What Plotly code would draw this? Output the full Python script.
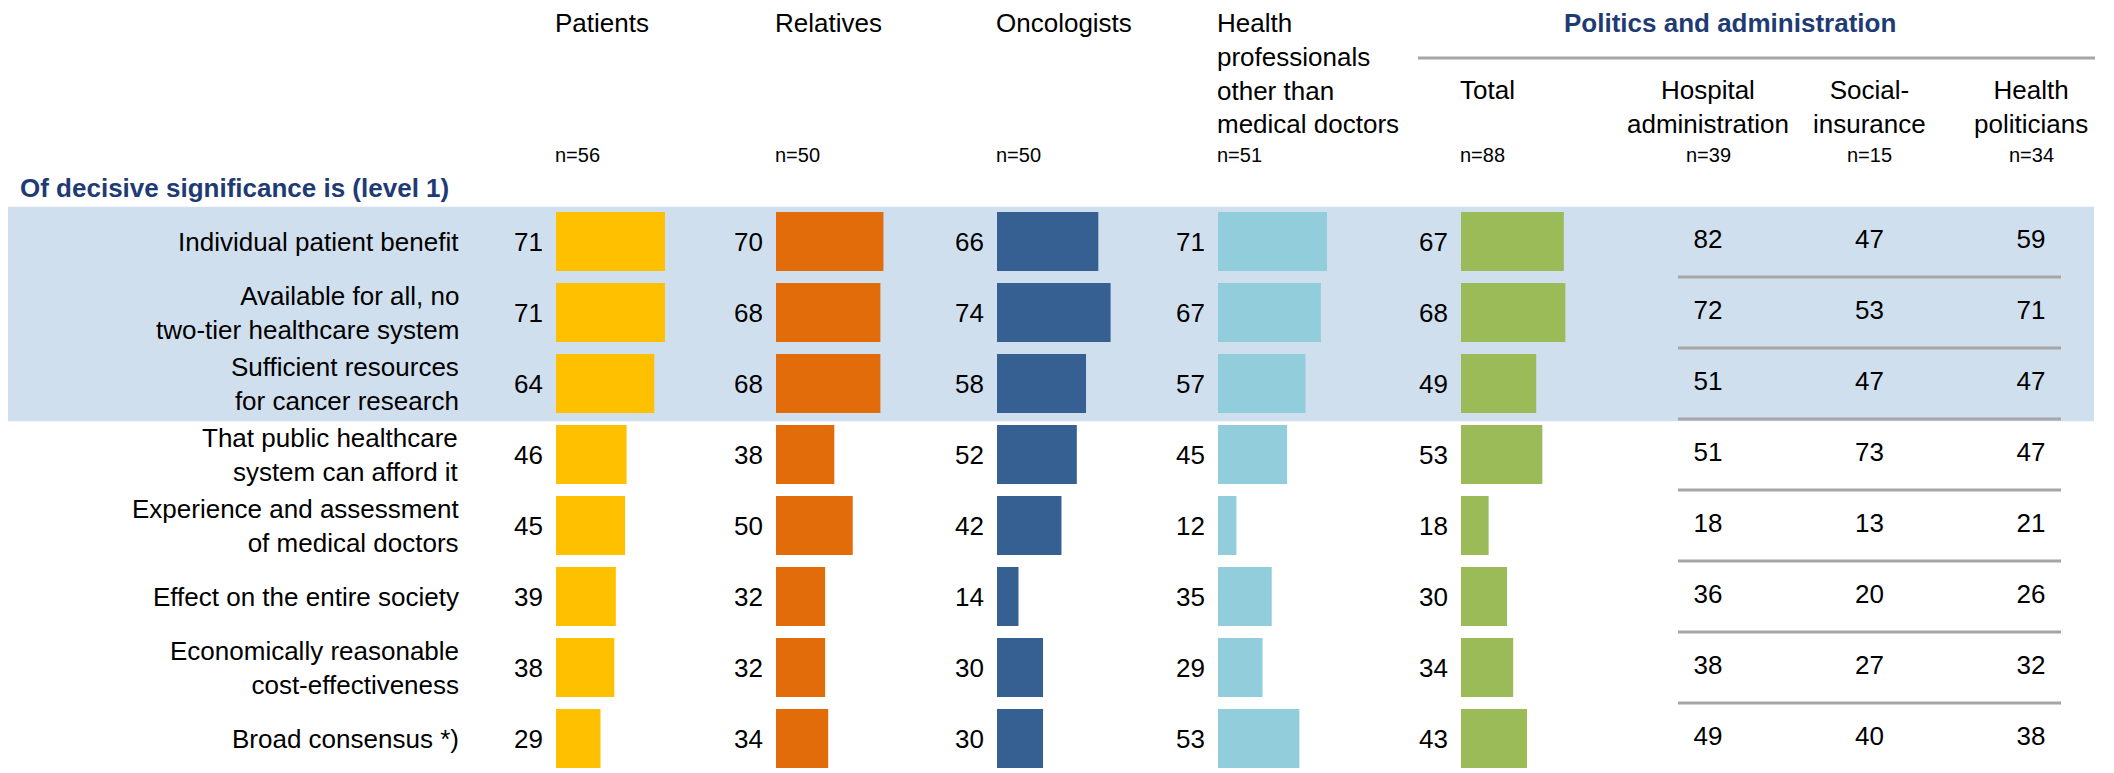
import plotly.graph_objects as go

# ---------------- data ----------------
row_labels = [
    "Individual patient benefit",
    "Available for all, no<br>two-tier healthcare system",
    "Sufficient resources<br>for cancer research",
    "That public healthcare<br>system can afford it",
    "Experience and assessment<br>of medical doctors",
    "Effect on the entire society",
    "Economically reasonable<br>cost-effectiveness",
    "Broad consensus *)",
]
bar_groups = ["Patients", "Relatives", "Oncologists",
              "Health<br>professionals<br>other than<br>medical doctors", "Total"]
bar_group_n = ["n=56", "n=50", "n=50", "n=51", "n=88"]
patients = [71, 71, 64, 46, 45, 39, 38, 29]
relatives = [70, 68, 68, 38, 50, 32, 32, 34]
oncologists = [66, 74, 58, 52, 42, 14, 30, 30]
health_prof = [71, 67, 57, 45, 12, 35, 29, 53]
total_pol = [67, 68, 49, 53, 18, 30, 34, 43]
bar_values = [patients, relatives, oncologists, health_prof, total_pol]

sub_groups = ["Hospital<br>administration", "Social-<br>insurance", "Health<br>politicians"]
sub_group_n = ["n=39", "n=15", "n=34"]
hospital_admin = [82, 72, 51, 51, 18, 36, 38, 49]
social_insurance = [47, 53, 47, 73, 13, 20, 27, 40]
health_politicians = [59, 71, 47, 47, 21, 26, 32, 38]
sub_values = [hospital_admin, social_insurance, health_politicians]

section_title = "Of decisive significance is (level 1)"
politics_title = "Politics and administration"
highlight_rows = 3

# ---------------- styling ----------------
W, H = 2114, 773
colors = ["#FFC000", "#E36C0A", "#366092", "#92CDDC", "#9BBB59"]
bar_left_px = [556, 776, 997, 1218, 1461]
header_top_px = [6, 6, 6, 6, 73]
px_per_unit = 1.535
navy = "#1F3B74"
grey = "#A6A6A6"
bg_blue = "#D0DFEE"
FONT = "Liberation Sans, Arial, sans-serif"

def px(x):
    return x / W

def py(y):
    return 1 - y / H

row_pitch = 71
first_center = 241.5
y_top_px = first_center - row_pitch / 2
y_bottom_val = (H - first_center) / row_pitch
yrange = [y_bottom_val, -0.5]
ypos = list(range(len(row_labels)))

fig = go.Figure()
layout = dict(
    width=W, height=H,
    margin=dict(l=0, r=0, t=0, b=0),
    paper_bgcolor="white", plot_bgcolor="rgba(0,0,0,0)",
    showlegend=False, hovermode=False,
    font=dict(family=FONT, size=26, color="black"),
    yaxis=dict(domain=[0, py(y_top_px)], range=yrange, visible=False,
               showgrid=False, zeroline=False),
)

annotations = []
shapes = []

for g, (name, vals) in enumerate(zip(bar_groups, bar_values)):
    axn = "" if g == 0 else str(g + 1)
    L = bar_left_px[g]
    layout["xaxis" + axn] = dict(
        domain=[px(L), px(L + 100 * px_per_unit)], range=[0, 100],
        anchor="y", visible=False, showgrid=False, zeroline=False)
    fig.add_trace(go.Bar(
        x=vals, y=ypos, orientation="h", width=0.83,
        marker=dict(color=colors[g], line=dict(width=0)),
        xaxis="x" + axn, yaxis="y"))
    for i, v in enumerate(vals):
        annotations.append(dict(
            x=0, y=i, xref="x" + axn, yref="y", text=str(v),
            showarrow=False, xanchor="right", yanchor="middle",
            xshift=-11, font=dict(size=26)))
    annotations.append(dict(
        x=0, y=py(header_top_px[g]), xref=f"x{axn} domain", yref="paper", text=name,
        showarrow=False, xanchor="left", yanchor="top", align="left",
        xshift=-3, font=dict(size=26)))
    annotations.append(dict(
        x=0, y=py(155), xref=f"x{axn} domain", yref="paper", text=bar_group_n[g],
        showarrow=False, xanchor="left", yanchor="middle",
        xshift=-3, font=dict(size=20)))

# text-only sub columns
layout["xaxis6"] = dict(
    domain=[px(1708 - 161.5 * 0.5), px(1708 + 161.5 * 2.5)],
    range=[-0.5, 2.5], anchor="y", visible=False,
    showgrid=False, zeroline=False)
for c, (name, vals) in enumerate(zip(sub_groups, sub_values)):
    fig.add_trace(go.Scatter(
        x=[c] * len(vals), y=ypos, mode="text",
        text=[str(v) for v in vals], textposition="middle center",
        textfont=dict(size=26, color="black", family=FONT),
        xaxis="x6", yaxis="y"))
    annotations.append(dict(
        x=c, y=py(73), xref="x6", yref="paper", text=name,
        showarrow=False, xanchor="center", yanchor="top", align="center",
        font=dict(size=26)))
    annotations.append(dict(
        x=c, y=py(155), xref="x6", yref="paper", text=sub_group_n[c],
        showarrow=False, xanchor="center", yanchor="middle",
        font=dict(size=20)))

# row labels
for i, lab in enumerate(row_labels):
    annotations.append(dict(
        x=px(461), y=i, xref="paper", yref="y", text=lab,
        showarrow=False, xanchor="right", yanchor="middle", align="right",
        font=dict(size=26)))

# titles
annotations.append(dict(
    x=px(18), y=py(188), xref="paper", yref="paper",
    text="<b>" + section_title + "</b>", showarrow=False,
    xanchor="left", yanchor="middle", font=dict(size=26, color=navy)))
annotations.append(dict(
    x=px(1730), y=py(23), xref="paper", yref="paper",
    text="<b>" + politics_title + "</b>", showarrow=False,
    xanchor="center", yanchor="middle", font=dict(size=26, color=navy)))

shapes.append(dict(
    type="rect", xref="paper", yref="y",
    x0=px(8), x1=px(2094), y0=-0.49, y1=highlight_rows - 0.47,
    fillcolor=bg_blue, line=dict(width=0), layer="below"))
for i in range(len(row_labels) - 1):
    shapes.append(dict(
        type="line", xref="paper", yref="y",
        x0=px(1678), x1=px(2061), y0=i + 0.5, y1=i + 0.5,
        line=dict(color=grey, width=3)))
shapes.append(dict(
    type="line", xref="paper", yref="paper",
    x0=px(1418), x1=px(2095), y0=py(58), y1=py(58),
    line=dict(color=grey, width=3)))

layout["annotations"] = annotations
layout["shapes"] = shapes
fig.update_layout(**layout)
fig.write_html(
    "out.html",
    config={"displayModeBar": False, "staticPlot": True},
    post_script="document.body.style.margin='0';document.body.style.overflow='hidden';",
)
